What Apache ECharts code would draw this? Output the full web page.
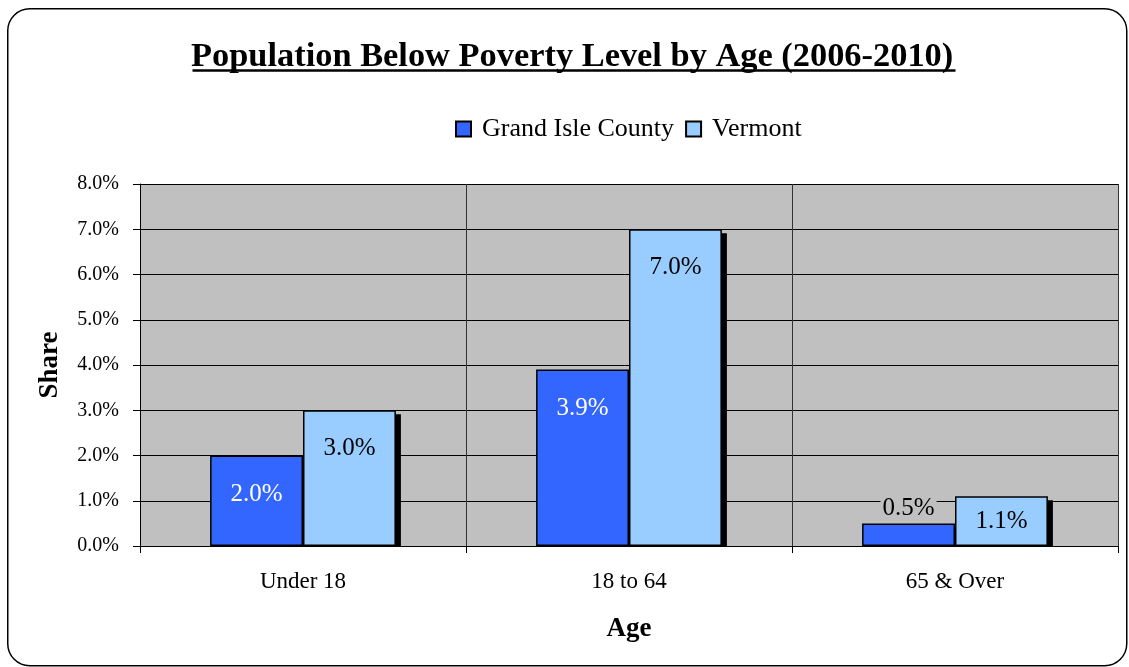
<!DOCTYPE html>
<html>
<head>
<meta charset="utf-8">
<script src="https://cdn.jsdelivr.net/npm/echarts@6/dist/echarts.min.js"></script>
<style>html,body{margin:0;padding:0;background:#fff}#c{width:1129px;height:667px}</style>
</head>
<body>
<div id="c"></div>
<script>
const categories = ['Under 18', '18 to 64', '65 & Over'];
const grandIsle = [2.0, 3.9, 0.5];
const vermont = [3.0, 7.0, 1.1];
const seriesNames = ['Grand Isle County', 'Vermont'];
const titleText = 'Population Below Poverty Level by Age (2006-2010)';

const FONT = '"Liberation Serif", "Times New Roman", serif';
const CAT_GAP = 0.43;
const chart = echarts.init(document.getElementById('c'));

function pct(v) { return v.toFixed(1) + '%'; }

const giData = grandIsle.map(v => {
  if (v < 1) {
    return { value: v, label: { position: 'top', distance: 2, color: '#000', backgroundColor: '#C0C0C0', padding: [0, 2, 0, 2] } };
  }
  return v;
});
const vtData = vermont.map(v => {
  if (v < 1.5) {
    return { value: v, label: { position: 'inside' } };
  }
  return v;
});

// shadow drawn behind bars via library scales
function shadowSeries(values, slot) {
  return {
    type: 'custom',
    z: 1,
    silent: true,
    data: values.map((v, i) => [i, v]),
    encode: { x: 0, y: 1 },
    renderItem: function (params, api) {
      const i = api.value(0);
      const v = api.value(1);
      const band = api.size([1, 0])[0];
      const barW = band * (1 - CAT_GAP) / 2;
      const top = api.coord([i, v]);
      const base = api.coord([i, 0]);
      const x = top[0] - band * (1 - CAT_GAP) / 2 + slot * barW;
      const h = base[1] - top[1] - 4;
      return {
        type: 'rect',
        shape: { x: x + 5, y: top[1] + 4, width: barW, height: Math.max(h, 0) },
        style: { fill: '#000' }
      };
    }
  };
}

chart.setOption({
  animation: false,
  backgroundColor: '#fff',
  textStyle: { fontFamily: FONT },
  title: {
    text: titleText,
    left: 186,
    top: 35,
    textStyle: { fontFamily: FONT, fontSize: 34.4, fontWeight: 'bold', color: '#000' }
  },
  legend: {
    data: seriesNames,
    left: 455,
    top: 116,
    padding: 0,
    itemWidth: 15,
    itemHeight: 15,
    itemGap: 11,
    icon: 'rect',
    textStyle: { fontFamily: FONT, fontSize: 26, color: '#000', padding: [0, 0, 0, 6] }
  },
  grid: {
    left: 140, right: 11, top: 184, bottom: 121,
    show: true, backgroundColor: '#C0C0C0', borderWidth: 0
  },
  xAxis: {
    type: 'category',
    data: categories,
    name: 'Age',
    nameLocation: 'middle',
    nameGap: 70,
    nameTextStyle: { fontFamily: FONT, fontSize: 27, fontWeight: 'bold', color: '#000' },
    axisLine: { lineStyle: { color: '#000', width: 1 } },
    axisTick: { show: true, length: 7, lineStyle: { color: '#000' } },
    axisLabel: { fontFamily: FONT, fontSize: 23, color: '#000', margin: 24 },
    splitLine: { show: true, lineStyle: { color: '#333', width: 1 } }
  },
  yAxis: {
    type: 'value',
    min: 0, max: 8, interval: 1,
    name: 'Share',
    nameLocation: 'middle',
    nameGap: 76,
    nameTextStyle: { fontFamily: FONT, fontSize: 27, fontWeight: 'bold', color: '#000' },
    axisLine: { show: true, lineStyle: { color: '#000', width: 1 } },
    axisTick: { show: true, length: 7, lineStyle: { color: '#000' } },
    axisLabel: { fontFamily: FONT, fontSize: 20, color: '#000', margin: 21, formatter: v => pct(v) },
    splitLine: { show: true, lineStyle: { color: '#000', width: 1 } }
  },
  series: [
    shadowSeries(grandIsle, 0),
    shadowSeries(vermont, 1),
    {
      name: seriesNames[0],
      type: 'bar',
      z: 2,
      data: giData,
      barGap: '0%',
      barCategoryGap: (CAT_GAP * 100) + '%',
      itemStyle: { color: '#3366FF', borderColor: '#000', borderWidth: 1.5 },
      label: { show: true, position: 'insideTop', distance: 26, color: '#fff',
        fontFamily: FONT, fontSize: 25, formatter: p => pct(p.value) }
    },
    {
      name: seriesNames[1],
      type: 'bar',
      z: 2,
      data: vtData,
      itemStyle: { color: '#99CCFF', borderColor: '#000', borderWidth: 1.5 },
      label: { show: true, position: 'insideTop', distance: 26, color: '#000',
        fontFamily: FONT, fontSize: 25, formatter: p => pct(p.value) }
    }
  ],
  graphic: [
    { type: 'rect', left: 7, top: 8, z: -10, silent: true,
      shape: { width: 1119, height: 657, r: 22 },
      style: { fill: 'transparent', stroke: '#000', lineWidth: 1.5 } },
    { type: 'line', left: 190, top: 68, silent: true,
      shape: { x1: 0, y1: 0, x2: 763, y2: 0 },
      style: { stroke: '#000', lineWidth: 2.5 } }
  ]
});
</script>
</body>
</html>
